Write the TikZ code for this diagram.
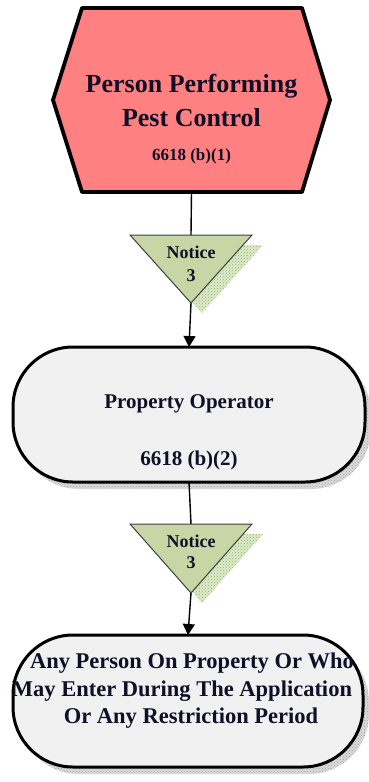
\documentclass[tikz,border=0pt]{standalone}
\usepackage{fontspec}
\setmainfont{Liberation Serif}
\usetikzlibrary{arrows.meta,patterns,backgrounds}
\definecolor{hexfill}{RGB}{255,128,128}
\definecolor{hexshadowbg}{RGB}{252,215,215}
\definecolor{hexshadow}{RGB}{238,140,140}
\definecolor{trifill}{RGB}{198,214,164}
\definecolor{trishadowbg}{RGB}{222,234,205}
\definecolor{trishadow}{RGB}{140,180,100}
\definecolor{boxfill}{RGB}{241,241,241}
\definecolor{boxshadowbg}{RGB}{218,218,218}
\definecolor{boxshadow}{RGB}{160,160,160}
\definecolor{txt}{RGB}{15,15,40}
\begin{document}
\begin{tikzpicture}[x=1pt,y=-1pt,
  frame/.style={draw=none,inner sep=0pt,outer sep=0pt},
  conn/.style={line width=1.4pt,draw=black},
  arr/.style={conn,-{Triangle[length=11pt,width=12pt]}},
  hexline/.style={fill=hexfill,draw=black,line width=3.8pt,line join=round},
  hexshade/.style={fill=hexshadowbg,postaction={pattern=crosshatch dots,pattern color=hexshadow}},
  triline/.style={fill=trifill,draw=black!75,line width=1pt,line join=miter},
  trishade/.style={fill=trishadowbg,postaction={pattern=crosshatch dots,pattern color=trishadow}},
  boxline/.style={frame,fill=boxfill,draw=black,line width=3pt,rounded corners=60pt},
  boxshade/.style={fill=boxshadowbg,rounded corners=60pt,postaction={pattern=crosshatch dots,pattern color=boxshadow}},
  lbl/.style={anchor=base,inner sep=0pt,text=txt,font=\bfseries},
]
\useasboundingbox (0,0) rectangle (368,782);

% ---- hexagon: person performing pest control
\node[frame,minimum width=277pt,minimum height=184pt] (hex) at (191.5,100) {};
\node[lbl,font=\bfseries\fontsize{26}{30}\selectfont] (hex1) at (191.5,92.5) {Person Performing};
\node[lbl,font=\bfseries\fontsize{26}{30}\selectfont] (hex2) at (191.5,126.5) {Pest Control};
\node[lbl,font=\bfseries\fontsize{17}{20}\selectfont] (hex3) at (191.5,160) {6618 (b)(1)};

% ---- notice triangle 1
\node[frame,minimum width=122pt,minimum height=68pt] (n1) at (191,269) {};
\node[lbl,font=\bfseries\fontsize{18}{20}\selectfont] (n1a) at (191,258.5) {Notice};
\node[lbl,font=\bfseries\fontsize{18}{20}\selectfont] (n1b) at (191,281) {3};

% ---- property operator
\node[boxline,minimum width=352pt,minimum height=135pt] (op) at (189,414.5) {};
\node[lbl,font=\bfseries\fontsize{21}{24}\selectfont] (op1) at (189,408.5) {Property Operator};
\node[lbl,font=\bfseries\fontsize{21}{24}\selectfont] (op2) at (189,465) {6618 (b)(2)};

% ---- notice triangle 2
\node[frame,minimum width=122pt,minimum height=69pt] (n2) at (191,558.5) {};
\node[lbl,font=\bfseries\fontsize{18}{20}\selectfont] (n2a) at (191,547) {Notice};
\node[lbl,font=\bfseries\fontsize{18}{20}\selectfont] (n2b) at (191,568.5) {3};

% ---- any person
\node[boxline,minimum width=350pt,minimum height=132pt] (ap) at (188,701) {};
\node[lbl,font=\bfseries\fontsize{22.5}{26}\selectfont] (ap1) at (192,668) {Any Person On Property Or Who};
\node[lbl,font=\bfseries\fontsize{22.5}{26}\selectfont] (ap2) at (182,696) {May Enter During The Application};
\node[lbl,font=\bfseries\fontsize{22.5}{26}\selectfont] (ap3) at (191,723) {Or Any Restriction Period};

% ---- shapes behind the text
\begin{pgfonlayer}{background}
  % hexagon shadow and body
  \begin{scope}[shift={(7,8)}]
    \fill[hexshade] (hex.west) -- ([xshift=29pt]hex.north west) -- ([xshift=-28pt]hex.north east)
      -- (hex.east) -- ([xshift=-28pt]hex.south east) -- ([xshift=29pt]hex.south west) -- cycle;
  \end{scope}
  \filldraw[hexline] (hex.west) -- ([xshift=29pt]hex.north west) -- ([xshift=-28pt]hex.north east)
      -- (hex.east) -- ([xshift=-28pt]hex.south east) -- ([xshift=29pt]hex.south west) -- cycle;
  % triangles
  \foreach \t in {n1,n2}{
    \fill[trishade] ([shift={(11pt,-10pt)}]\t.north west) -- ([shift={(11pt,-10pt)}]\t.north east)
      -- ([shift={(11pt,-10pt)}]\t.south) -- cycle;
    \filldraw[triline] (\t.north west) -- (\t.north east) -- (\t.south) -- cycle;
  }
  % box shadows
  \fill[boxshade] ([shift={(6pt,-7pt)}]op.north west) rectangle ([shift={(6pt,-7pt)}]op.south east);
  \fill[boxshade] ([shift={(6pt,-7pt)}]ap.north west) rectangle ([shift={(6pt,-7pt)}]ap.south east);
\end{pgfonlayer}

% ---- connectors
\draw[conn] (hex.south) -- (n1.north);
\draw[arr] (n1.south) -- (op.north);
\draw[conn] (op.south) -- (n2.north);
\draw[arr] (n2.south) -- (ap.north);
\end{tikzpicture}
\end{document}
